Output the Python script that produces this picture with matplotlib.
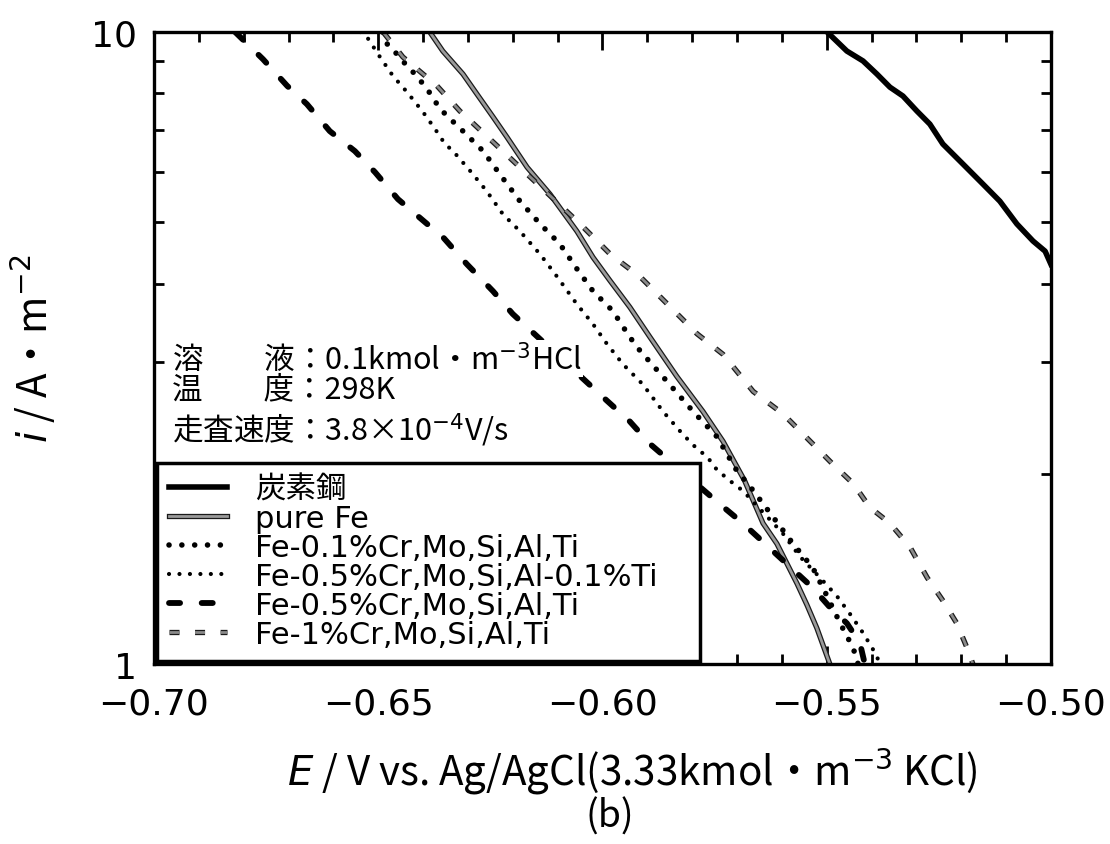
import matplotlib
matplotlib.use("Agg")
import matplotlib.pyplot as plt
from matplotlib import patheffects as pe
from matplotlib.ticker import MultipleLocator, FixedLocator, FixedFormatter, FuncFormatter

plt.rcParams['font.family'] = ['DejaVu Sans', 'Noto Sans CJK JP']
plt.rcParams['mathtext.fontset'] = 'dejavusans'
JP = ['Noto Sans CJK JP', 'DejaVu Sans']

# 炭素鋼
e_carbon = [-0.5499, -0.5455, -0.5419, -0.5388, -0.5359, -0.5330, -0.5299, -0.5270,
            -0.5241, -0.5196, -0.5152, -0.5114, -0.5076, -0.5040, -0.5013, -0.5000]
i_carbon = [10.0, 9.33, 9.00, 8.58, 8.18, 7.92, 7.50, 7.15,
            6.65, 6.18, 5.75, 5.40, 4.97, 4.67, 4.50, 4.29]

# pure Fe
e_pure = [-0.6385, -0.6356, -0.6311, -0.6280, -0.6244, -0.6213, -0.6168, -0.6117,
          -0.6057, -0.6021, -0.5983, -0.5939, -0.5894, -0.5834, -0.5776, -0.5731,
          -0.5683, -0.5642, -0.5611, -0.5566, -0.5544, -0.5522, -0.5493]
i_pure = [10.0, 9.33, 8.58, 7.98, 7.34, 6.82, 6.11, 5.54,
          4.84, 4.40, 4.04, 3.67, 3.29, 2.85, 2.51, 2.25,
          1.95, 1.67, 1.55, 1.34, 1.24, 1.14, 1.00]

# Fe-0.1%Cr,Mo,Si,Al,Ti
e_cr01 = [-0.6490, -0.6478, -0.6458, -0.6436, -0.6418, -0.6391, -0.6369, -0.6351,
          -0.6311, -0.6266, -0.6229, -0.6184, -0.6139, -0.6095, -0.6057, -0.6021,
          -0.5977, -0.5939, -0.5916, -0.5856, -0.5798, -0.5745, -0.5700, -0.5671,
          -0.5620, -0.5575, -0.5531, -0.5499, -0.5470, -0.5441, -0.5430]
i_cr01 = [10.0, 9.50, 9.23, 8.84, 8.58, 8.13, 7.69, 7.42,
          6.97, 6.48, 5.96, 5.40, 4.97, 4.62, 4.22, 3.89,
          3.62, 3.29, 3.13, 2.80, 2.51, 2.29, 2.02, 1.91,
          1.71, 1.55, 1.42, 1.28, 1.16, 1.06, 1.00]

# Fe-0.5%Cr,Mo,Si,Al-0.1%Ti
e_cr05ti = [-0.6540, -0.6525, -0.6496, -0.6467, -0.6436, -0.6400, -0.6373, -0.6351,
            -0.6333, -0.6295, -0.6258, -0.6222, -0.6184, -0.6139, -0.6101, -0.6057,
            -0.6021, -0.5990, -0.5954, -0.5910, -0.5865, -0.5821, -0.5789, -0.5767,
            -0.5745, -0.5716, -0.5687, -0.5598, -0.5560, -0.5515, -0.5477, -0.5448,
            -0.5419, -0.5388, -0.5383]
i_cr05ti = [10.0, 9.82, 9.13, 8.52, 8.04, 7.47, 7.02, 6.65,
            6.48, 6.03, 5.60, 5.15, 4.84, 4.45, 4.10, 3.71,
            3.45, 3.21, 2.98, 2.77, 2.51, 2.31, 2.19, 2.13,
            2.03, 1.95, 1.88, 1.61, 1.48, 1.37, 1.28, 1.20,
            1.12, 1.03, 1.00]

# Fe-0.5%Cr,Mo,Si,Al,Ti
e_cr05 = [-0.6819, -0.6757, -0.6703, -0.6659, -0.6608, -0.6552, -0.6507, -0.6456,
          -0.6391, -0.6356, -0.6302, -0.6244, -0.6200, -0.5990, -0.5939, -0.5894,
          -0.5738, -0.5687, -0.5531, -0.5493, -0.5455, -0.5426, -0.5415]
i_cr05 = [10.0, 9.06, 8.22, 7.69, 6.97, 6.48, 6.00, 5.44,
          4.97, 4.74, 4.29, 3.89, 3.58, 2.61, 2.42, 2.23,
          1.79, 1.67, 1.32, 1.23, 1.16, 1.08, 1.00]

# Fe-1%Cr,Mo,Si,Al,Ti
e_cr1 = [-0.6489, -0.6445, -0.6369, -0.6318, -0.6244, -0.6050, -0.5981, -0.5916,
         -0.5845, -0.5789, -0.5731, -0.5664, -0.5598, -0.5531, -0.5486, -0.5441,
         -0.5404, -0.5359, -0.5314, -0.5276, -0.5241, -0.5210, -0.5187, -0.5174]
i_cr1 = [10.0, 9.13, 8.22, 7.50, 6.70, 4.97, 4.44, 4.10,
         3.65, 3.33, 3.09, 2.70, 2.49, 2.23, 2.07, 1.93,
         1.77, 1.67, 1.53, 1.37, 1.26, 1.16, 1.06, 1.00]

labels = ['炭素鋼', 'pure Fe', 'Fe-0.1%Cr,Mo,Si,Al,Ti', 'Fe-0.5%Cr,Mo,Si,Al-0.1%Ti',
          'Fe-0.5%Cr,Mo,Si,Al,Ti', 'Fe-1%Cr,Mo,Si,Al,Ti']

fig = plt.figure(figsize=(11.1, 8.45), dpi=100)
ax = fig.add_axes([0.1387, 0.2130, 0.8081, 0.7479])

outline = [pe.Stroke(linewidth=3.8, foreground='#1a1a1a'), pe.Normal()]

ax.plot(e_carbon, i_carbon, color='black', lw=4.0, label=labels[0])
ax.plot(e_pure, i_pure, color='#9a9a9a', lw=2.0, path_effects=outline, label=labels[1])
ax.plot(e_cr01, i_cr01, color='black', lw=4.0, ls=(0, (0.01, 2.3)),
        dash_capstyle='round', label=labels[2])
ax.plot(e_cr05ti, i_cr05ti, color='black', lw=3.0, ls=(0, (0.01, 2.5)),
        dash_capstyle='round', label=labels[3])
ax.plot(e_cr05, i_cr05, color='black', lw=4.2, ls=(0, (1.9, 3.7)),
        dash_capstyle='round', label=labels[4])
ax.plot(e_cr1, i_cr1, color='#8a8a8a', lw=2.0, ls=(0, (3.6, 5.6)),
        path_effects=outline, label=labels[5])

ax.set_xlim(-0.70, -0.50)
ax.set_yscale('log')
ax.set_ylim(1, 10)

ax.xaxis.set_major_locator(MultipleLocator(0.05))
ax.xaxis.set_minor_locator(MultipleLocator(0.01))
ax.xaxis.set_major_formatter(FuncFormatter(lambda v, p: f"{v:.2f}".replace('-', '\u2212')))
ax.yaxis.set_major_locator(FixedLocator([1, 10]))
ax.yaxis.set_major_formatter(FixedFormatter(['1', '10']))
ax.yaxis.set_minor_locator(FixedLocator([2, 3, 4, 5, 6, 7, 8, 9]))
ax.yaxis.set_minor_formatter(FixedFormatter([''] * 8))

ax.tick_params(which='both', direction='in', top=True, right=True, width=2)
ax.tick_params(which='major', length=13)
ax.tick_params(which='minor', length=7)
ax.tick_params(axis='x', which='major', pad=16, labelsize=26)
ax.tick_params(axis='y', which='major', pad=12, labelsize=26)
for s in ax.spines.values():
    s.set_linewidth(2.4)

ax.set_xlabel('$E$ / V vs. Ag/AgCl(3.33kmol・m$^{-3}$ KCl)', fontsize=29, family=JP)
ax.xaxis.set_label_coords(0.533, -0.13)
ax.set_ylabel('$i$ / A・m$^{-2}$', fontsize=29, labelpad=24, family=JP)
fig.text(0.549, 0.033, '(b)', fontsize=27, ha='center', va='center', family=JP)

# 測定条件 (white box hides the curves behind the text, as in the original)
box = dict(facecolor='white', edgecolor='none', pad=1)
ax.text(0.020, 0.483, '溶\u3000\u3000液：0.1kmol・m$^{-3}$HCl', transform=ax.transAxes,
        fontsize=22, va='center', family=JP, bbox=box)
ax.text(0.020, 0.436, '温\u3000\u3000度：298K', transform=ax.transAxes,
        fontsize=22, va='center', family=JP, bbox=box)
ax.text(0.020, 0.372, '走査速度：3.8×10$^{-4}$V/s', transform=ax.transAxes,
        fontsize=22, va='center', family=JP, bbox=box)

leg = ax.legend(loc='lower left', bbox_to_anchor=(0.0033, 0.0047, 0.605, 0.3275),
                mode='expand', borderaxespad=0, fontsize=22, handlelength=1.9,
                handletextpad=0.9, labelspacing=0.0, borderpad=0.4,
                fancybox=False, framealpha=1, edgecolor='black')
leg.get_frame().set_linewidth(2.5)

fig.savefig('out.png', dpi=100)
